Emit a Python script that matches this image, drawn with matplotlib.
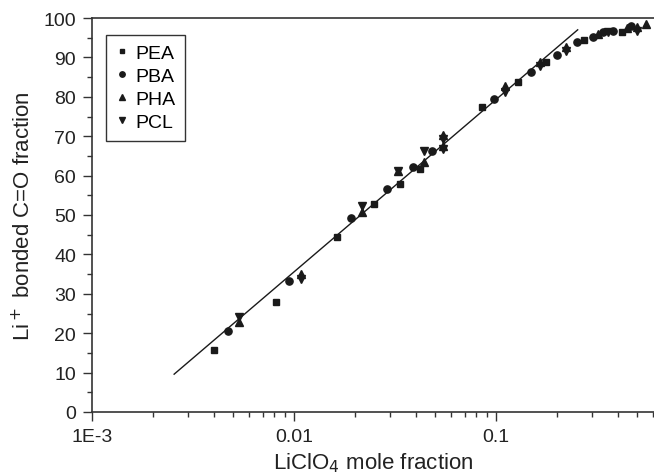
import matplotlib
matplotlib.use("Agg")
import matplotlib.pyplot as plt
from matplotlib.ticker import FixedLocator, MultipleLocator, LogLocator, NullFormatter

plt.rcParams['font.family'] = ['Liberation Sans', 'DejaVu Sans']

# Data
pea_x = [0.00402, 0.00814, 0.01637, 0.0249, 0.0333, 0.0419, 0.0853, 0.129, 0.177, 0.273, 0.419]
pea_y = [15.7, 28.0, 44.3, 52.9, 57.9, 61.7, 77.5, 83.8, 88.8, 94.5, 96.4]

pba_x = [0.00471, 0.00948, 0.01914, 0.0288, 0.0387, 0.0484, 0.0982, 0.1486, 0.1995, 0.251, 0.301, 0.34, 0.38, 0.466]
pba_y = [20.6, 33.2, 49.2, 56.6, 62.1, 66.2, 79.4, 86.2, 90.7, 93.8, 95.1, 96.4, 96.8, 97.9]

pha_x = [0.00535, 0.0108, 0.0218, 0.0328, 0.0441, 0.0548, 0.0548, 0.111, 0.165, 0.222, 0.321, 0.444, 0.497, 0.551]
pha_y = [22.8, 35.0, 50.7, 61.2, 63.5, 70.2, 67.6, 82.7, 88.8, 92.6, 96.0, 97.4, 97.8, 98.5]

pcl_x = [0.00535, 0.0108, 0.0218, 0.0328, 0.0438, 0.0548, 0.0548, 0.111, 0.165, 0.222, 0.36, 0.497]
pcl_y = [24.0, 33.8, 52.4, 61.2, 66.3, 69.2, 66.7, 81.3, 87.8, 91.6, 96.5, 96.6]

fit_x = [0.00255, 0.2535]
fit_y = [9.6, 97.0]

xtick_vals = [1e-3, 1e-2, 1e-1]
xtick_labels = ["1E-3", "0.01", "0.1"]

col = "#1a1a1a"

fig = plt.figure(figsize=(6.54, 4.77), dpi=100)
ax = fig.add_axes([92/654, 64/477, 1 - 92/654, (413-19)/477])

ax.plot(fit_x, fit_y, color=col, lw=1.0, zorder=2)
ax.plot(pea_x, pea_y, 's', color=col, ms=4.6, label='PEA', zorder=3)
ax.plot(pba_x, pba_y, 'o', color=col, ms=5.2, label='PBA', zorder=3)
ax.plot(pha_x, pha_y, '^', color=col, ms=5.6, label='PHA', zorder=3)
ax.plot(pcl_x, pcl_y, 'v', color=col, ms=5.6, label='PCL', zorder=3)

ax.set_xscale('log')
ax.set_xlim(1e-3, 0.605)
ax.set_ylim(0, 100)

ax.xaxis.set_major_locator(FixedLocator(xtick_vals))
ax.set_xticklabels(xtick_labels)
ax.xaxis.set_minor_locator(LogLocator(base=10, subs=range(2, 10)))
ax.xaxis.set_minor_formatter(NullFormatter())
ax.yaxis.set_major_locator(MultipleLocator(10))
ax.yaxis.set_minor_locator(MultipleLocator(5))

ax.tick_params(which='major', direction='out', length=6.5, width=1, labelsize=14, pad=5,
               colors='#333333', labelcolor='#222222')
ax.tick_params(which='minor', direction='out', length=3.5, width=1, colors='#333333')
for s in ['left', 'bottom', 'top']:
    ax.spines[s].set_linewidth(1.2)
    ax.spines[s].set_color('#333333')
ax.spines['right'].set_visible(False)

ax.set_xlabel('LiClO$_4$ mole fraction', fontsize=16, color='#222222', labelpad=4)
ax.set_ylabel('Li$^+$ bonded C=O fraction', fontsize=16, color='#222222', labelpad=6)

leg = ax.legend(loc='upper left', bbox_to_anchor=(0.025, 0.958), borderaxespad=0,
                fontsize=14, markerscale=0.75, handlelength=0.6, handletextpad=0.4,
                labelspacing=0.28, fancybox=False, edgecolor='#333333', framealpha=1,
                borderpad=0.5)
leg.get_frame().set_linewidth(1.0)

fig.savefig('out.png', dpi=100)
